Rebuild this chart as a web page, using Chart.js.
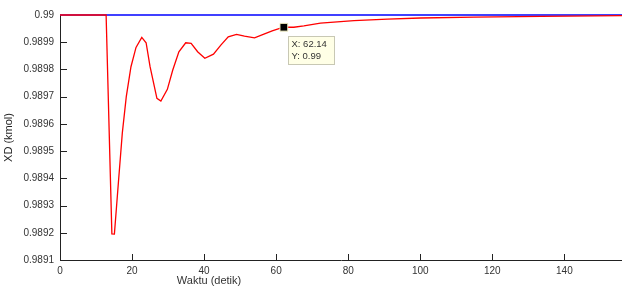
<!DOCTYPE html>
<html>
<head>
<meta charset="utf-8">
<script src="https://cdn.jsdelivr.net/npm/chart.js@4"></script>
<style>
  html, body { margin: 0; padding: 0; background: #ffffff; }
  #wrap { width: 622px; height: 286px; }
</style>
</head>
<body>
<div id="wrap"><canvas id="c" width="622" height="286"></canvas></div>
<script>
// ---- data ----
const timeValues = [0, 12.8, 14.4, 15.1, 16.2, 17.3, 18.4, 19.7, 21.1, 22.7, 23.9, 25.0, 26.9, 28.0, 29.8, 31.3, 33.0, 34.9, 36.4, 38.2, 40.2, 42.6, 44.7, 46.7, 49.0, 51.2, 54.0, 56.6, 58.9, 61.0, 62.14, 64.9, 67.7, 72.3, 75.1, 81.6, 90.9, 100.1, 114.9, 133.5, 156];
const xdValues = [0.99, 0.99, 0.989196, 0.989195, 0.989383, 0.989567, 0.989700, 0.989810, 0.989881, 0.989918, 0.989898, 0.989810, 0.989694, 0.989684, 0.989727, 0.989798, 0.989865, 0.989898, 0.989896, 0.989865, 0.989841, 0.989856, 0.989890, 0.989920, 0.989929, 0.989922, 0.989916, 0.989930, 0.989942, 0.989951, 0.989955, 0.989955, 0.98996, 0.98997, 0.989973, 0.989979, 0.989985, 0.989989, 0.989992, 0.989995, 0.989998];
const setpointTime = [0, 156];
const setpointValues = [0.99, 0.99];
const markerX = [62.14];
const markerY = [0.989955];
const xTickValues = [0, 20, 40, 60, 80, 100, 120, 140];
const xTickLabels = ['0', '20', '40', '60', '80', '100', '120', '140'];
const yTickValues = [0.9891, 0.9892, 0.9893, 0.9894, 0.9895, 0.9896, 0.9897, 0.9898, 0.9899, 0.99];
const yTickLabels = ['0.9891', '0.9892', '0.9893', '0.9894', '0.9895', '0.9896', '0.9897', '0.9898', '0.9899', '0.99'];
const xAxisTitle = 'Waktu (detik)';
const yAxisTitle = 'XD (kmol)';

const toPts = (xs, ys) => xs.map((x, i) => ({ x: x, y: ys[i] }));
const FONT = '"Liberation Sans", Arial, sans-serif';

const inwardTicks = {
  id: 'inwardTicks',
  afterDatasetsDraw(chart) {
    const { ctx, chartArea, scales } = chart;
    ctx.save();
    ctx.strokeStyle = '#222';
    ctx.lineWidth = 1;
    ctx.beginPath();
    scales.y.ticks.forEach(t => {
      const py = Math.round(scales.y.getPixelForValue(t.value)) + 0.5;
      if (py < chartArea.top + 2) return;
      ctx.moveTo(chartArea.left, py);
      ctx.lineTo(chartArea.left + 7, py);
    });
    scales.x.ticks.forEach(t => {
      const px = Math.round(scales.x.getPixelForValue(t.value)) + 0.5;
      if (px < chartArea.left + 2) return;
      ctx.moveTo(px, chartArea.bottom);
      ctx.lineTo(px, chartArea.bottom - 6);
    });
    ctx.stroke();
    // x axis title (left of centre, as in the reference)
    ctx.fillStyle = '#333';
    ctx.font = '11px ' + FONT;
    ctx.textAlign = 'center';
    ctx.textBaseline = 'middle';
    ctx.fillText(xAxisTitle, chartArea.left + 149, chartArea.bottom + 21);
    // data tip
    const mx = scales.x.getPixelForValue(markerX[0]);
    const my = scales.y.getPixelForValue(markerY[0]);
    const bx = Math.round(mx + 4) + 0.5, by = Math.round(my + 9) + 0.5;
    ctx.fillStyle = '#ffffe6';
    ctx.strokeStyle = '#c8c8b4';
    ctx.fillRect(bx, by, 46, 28);
    ctx.strokeRect(bx, by, 46, 28);
    ctx.fillStyle = '#333';
    ctx.font = '9.5px ' + FONT;
    ctx.textAlign = 'left';
    ctx.fillText('X: ' + markerX[0], bx + 3, by + 8);
    ctx.fillText('Y: ' + markerY[0].toFixed(2), bx + 3, by + 20);
    ctx.restore();
  }
};

new Chart(document.getElementById('c'), {
  type: 'scatter',
  data: {
    datasets: [
      {
        label: 'marker',
        data: toPts(markerX, markerY),
        showLine: false,
        clip: false,
        pointStyle: 'rect',
        pointRadius: 5.5,
        backgroundColor: '#000000',
        borderColor: '#f0ecc0',
        borderWidth: 1
      },
      {
        label: 'XD',
        data: toPts(timeValues, xdValues),
        showLine: true,
        clip: false,
        borderColor: '#ff0000',
        borderWidth: 1.3,
        pointRadius: 0,
        tension: 0
      },
      {
        label: 'setpoint',
        data: toPts(setpointTime, setpointValues),
        showLine: true,
        clip: false,
        borderColor: '#0000ff',
        borderWidth: 1.3,
        pointRadius: 0
      }
    ]
  },
  options: {
    responsive: false,
    animation: false,
    devicePixelRatio: 1,
    layout: { autoPadding: false, padding: { top: 15, right: 0, left: 0, bottom: 0 } },
    plugins: { legend: { display: false }, tooltip: { enabled: false } },
    scales: {
      x: {
        type: 'linear',
        min: 0,
        max: 156,
        afterFit(s) { s.height = 26; s.paddingLeft = 0; s.paddingRight = 0; },
        afterBuildTicks(s) { s.ticks = xTickValues.map(v => ({ value: v })); },
        grid: { display: false, drawTicks: false },
        border: { display: true, color: '#222', width: 1 },
        ticks: {
          padding: 5,
          color: '#333',
          font: { size: 10, family: FONT },
          maxRotation: 0,
          callback: (v, i) => xTickLabels[i]
        }
      },
      y: {
        type: 'linear',
        min: 0.9891,
        max: 0.99,
        afterFit(s) { s.width = 60; s.paddingTop = 0; s.paddingBottom = 0; },
        afterBuildTicks(s) { s.ticks = yTickValues.map(v => ({ value: v })); },
        grid: { display: false, drawTicks: false },
        border: { display: true, color: '#222', width: 1 },
        ticks: {
          padding: 6,
          color: '#333',
          font: { size: 10, family: FONT },
          callback: (v, i) => yTickLabels[i]
        },
        title: {
          display: true,
          text: yAxisTitle,
          color: '#222',
          padding: { top: 2, bottom: 0 },
          font: { size: 11, family: FONT }
        }
      }
    }
  },
  plugins: [inwardTicks]
});
</script>
</body>
</html>
